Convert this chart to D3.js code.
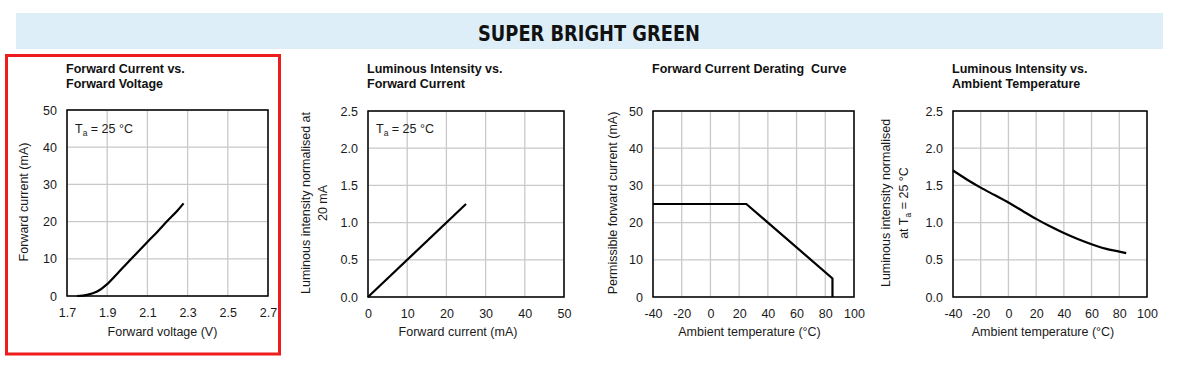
<!DOCTYPE html>
<html><head><meta charset="utf-8">
<script src="https://cdn.jsdelivr.net/npm/d3@7"></script>
<style>
html,body{margin:0;padding:0;background:#fff;}
svg{display:block;font-family:"Liberation Sans",Arial,sans-serif;}
text{white-space:pre;}
</style></head>
<body><svg id="c" width="1181" height="367"></svg>
<script>
// ---- data ----
const bannerTitle = "SUPER BRIGHT GREEN";

const fvVoltage = [1.75, 1.80, 1.85, 1.90, 1.95, 2.00, 2.05, 2.10, 2.15, 2.20, 2.25, 2.28];
const fvCurrent = [0.0, 0.3, 1.2, 3.2, 6.0, 8.9, 11.7, 14.5, 17.3, 20.2, 23.0, 24.9];
const fvXTicks = [1.7, 1.9, 2.1, 2.3, 2.5, 2.7];
const fvYTicks = [0, 10, 20, 30, 40, 50];

const liCurrent = [0, 25];
const liIntensity = [0, 1.25];
const liXTicks = [0, 10, 20, 30, 40, 50];
const liYTicks = [0, 0.5, 1.0, 1.5, 2.0, 2.5];

const drTemp = [-40, 25, 85, 85];
const drCurrent = [25, 25, 5, 0];
const tempTicks = [-40, -20, 0, 20, 40, 60, 80, 100];
const drYTicks = [0, 10, 20, 30, 40, 50];

const ltTemp = [-40, -30, -20, -10, 0, 10, 20, 30, 40, 50, 60, 70, 80, 85];
const ltIntensity = [1.70, 1.58, 1.47, 1.37, 1.27, 1.16, 1.05, 0.95, 0.86, 0.78, 0.71, 0.65, 0.61, 0.59];
const ltYTicks = [0, 0.5, 1.0, 1.5, 2.0, 2.5];

// ---- helpers ----
const fmt = spec => { const f = d3.format(spec); return d => f(d).replace("\u2212", "-"); };
const FS = 12.5;

// ---- chart descriptors ----
const charts = [
  {x0:67, x1:268, y0:110, y1:296, xs:fvVoltage, ys:fvCurrent, xt:fvXTicks, yt:fvYTicks,
   xf:fmt(".1f"), yf:fmt("d"), curve:d3.curveMonotoneX,
   title:["Forward Current vs.","Forward Voltage"], xTitle:"Forward voltage (V)",
   yTitle:[{t:"Forward current (mA)", x:23}], ta:true, xOff:-5},
  {x0:368, x1:564, y0:111, y1:297, xs:liCurrent, ys:liIntensity, xt:liXTicks, yt:liYTicks,
   xf:fmt("d"), yf:fmt(".1f"), curve:d3.curveLinear,
   title:["Luminous Intensity vs.","Forward Current"], xTitle:"Forward current (mA)",
   yTitle:[{t:"Luminous intensity normalised at", x:305},{t:"20 mA", x:322}], ta:true, xOff:-8},
  {x0:653, x1:854, y0:111, y1:297, xs:drTemp, ys:drCurrent, xt:tempTicks, yt:drYTicks,
   xf:fmt("d"), yf:fmt("d"), curve:d3.curveLinear,
   title:["Forward Current Derating  Curve"], xTitle:"Ambient temperature (°C)",
   yTitle:[{t:"Permissible forward current (mA)", x:612}], ta:false, xOff:-4},
  {x0:953, x1:1147, y0:111, y1:297, xs:ltTemp, ys:ltIntensity, xt:tempTicks, yt:ltYTicks,
   xf:fmt("d"), yf:fmt(".1f"), curve:d3.curveMonotoneX,
   title:["Luminous Intensity vs.","Ambient Temperature"], xTitle:"Ambient temperature (°C)",
   yTitle:[{t:"Luminous intensity normalised", x:885},{t:"at T", sub:"a", rest:" = 25 °C", x:903}], ta:false, xOff:-7}
];

const svg = d3.select("#c");

// banner
svg.append("rect").attr("x",16).attr("y",13).attr("width",1147).attr("height",36).attr("fill","#ddeef8");
svg.append("text").attr("x",589).attr("y",41).attr("text-anchor","middle")
  .attr("font-family","'Liberation Sans Narrow','DejaVu Sans Condensed','Open Sans',sans-serif")
  .attr("font-weight","bold").attr("font-size",21).attr("fill","#111")
  .attr("textLength",222).attr("lengthAdjust","spacingAndGlyphs").text(bannerTitle);

const txt = "#1a1a1a";

charts.forEach(c => {
  const xs = d3.scaleLinear().domain(d3.extent(c.xt)).range([c.x0, c.x1]);
  const ys = d3.scaleLinear().domain(d3.extent(c.yt)).range([c.y1, c.y0]);
  const g = svg.append("g");

  // grid
  g.append("g").selectAll("line").data(c.xt).join("line")
    .attr("x1",d=>xs(d)).attr("x2",d=>xs(d)).attr("y1",c.y0).attr("y2",c.y1)
    .attr("stroke","#c9c9c9").attr("stroke-width",1.3);
  g.append("g").selectAll("line").data(c.yt).join("line")
    .attr("y1",d=>ys(d)).attr("y2",d=>ys(d)).attr("x1",c.x0).attr("x2",c.x1)
    .attr("stroke","#c9c9c9").attr("stroke-width",1.3);

  // axes (labels only)
  const xa = d3.axisBottom(xs).tickValues(c.xt).tickFormat(c.xf).tickSize(0).tickPadding(12);
  const xg = g.append("g").attr("transform",`translate(0,${c.y1})`).call(xa);
  const ya = d3.axisLeft(ys).tickValues(c.yt).tickFormat(c.yf).tickSize(0).tickPadding(10);
  const yg = g.append("g").attr("transform",`translate(${c.x0},0)`).call(ya);
  [xg,yg].forEach(a=>{
    a.select(".domain").remove();
    a.selectAll("text").attr("font-size",FS).attr("fill",txt)
      .attr("font-family","'Liberation Sans',Arial,sans-serif");
  });

  // frame
  g.append("rect").attr("x",c.x0).attr("y",c.y0).attr("width",c.x1-c.x0).attr("height",c.y1-c.y0)
    .attr("fill","none").attr("stroke","#000").attr("stroke-width",1.5);

  // data line
  const pts = c.xs.map((x,i)=>[x,c.ys[i]]);
  g.append("path").datum(pts)
    .attr("d", d3.line().x(d=>xs(d[0])).y(d=>ys(d[1])).curve(c.curve))
    .attr("fill","none").attr("stroke","#000").attr("stroke-width",2.2)
    .attr("stroke-linejoin","miter");

  // Ta label
  if (c.ta) {
    const t = g.append("text").attr("x",c.x0+8).attr("y",133).attr("font-size",FS).attr("fill",txt);
    t.append("tspan").text("T");
    t.append("tspan").attr("font-size",8.5).attr("dy",3).text("a");
    t.append("tspan").attr("dy",-3).text(" = 25 °C");
  }

  // titles
  c.title.forEach((s,i)=>{
    g.append("text").attr("x",c.x0-1).attr("y",73+i*14.5).attr("font-size",FS)
      .attr("font-weight","bold").attr("fill","#111").text(s);
  });

  // x title
  g.append("text").attr("x",(c.x0+c.x1)/2 + c.xOff).attr("y",336).attr("text-anchor","middle")
    .attr("font-size",FS).attr("fill",txt).text(c.xTitle);

  // y titles
  const cy = (c.y0+c.y1)/2 - 1;
  c.yTitle.forEach(yt=>{
    const t = g.append("text").attr("transform",`translate(${yt.x+4.5},${cy}) rotate(-90)`)
      .attr("text-anchor","middle").attr("font-size",FS).attr("fill",txt);
    t.append("tspan").text(yt.t);
    if (yt.sub) {
      t.append("tspan").attr("font-size",8.5).attr("dy",3).text(yt.sub);
      t.append("tspan").attr("dy",-3).text(yt.rest);
    }
  });
});

// highlight box
svg.append("rect").attr("x",6.5).attr("y",55.5).attr("width",273).attr("height",298.5)
  .attr("fill","none").attr("stroke","#ee1c1c").attr("stroke-width",3);
</script>
</body></html>
